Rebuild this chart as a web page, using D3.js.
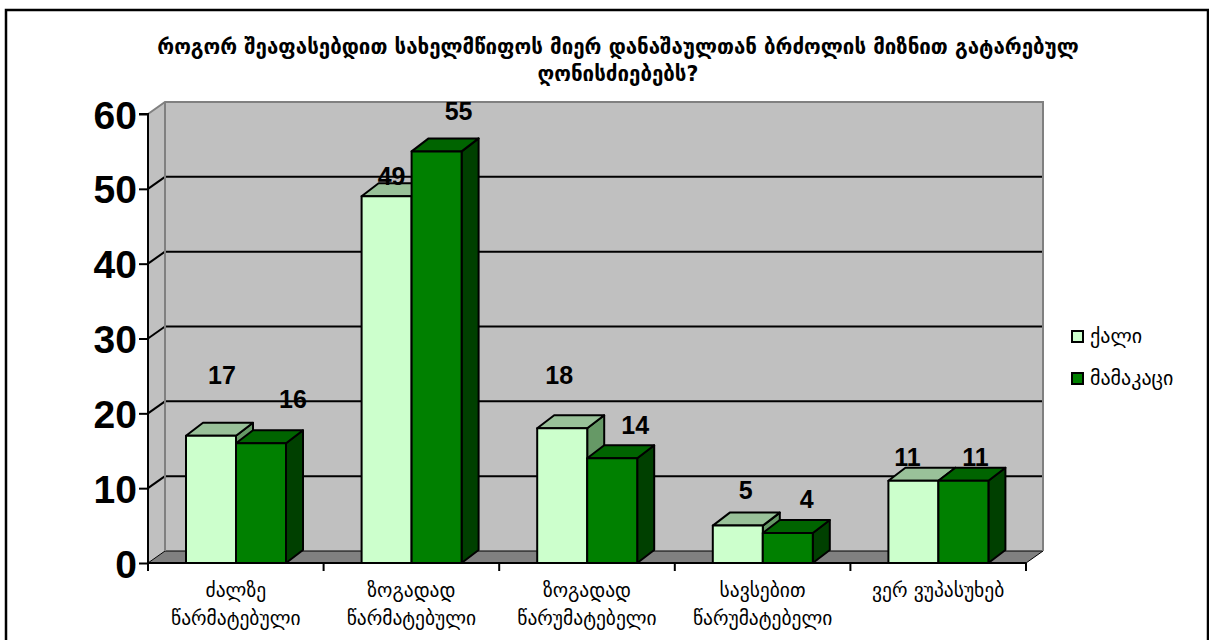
<!DOCTYPE html>
<html>
<head>
<meta charset="utf-8">
<script src="https://cdn.jsdelivr.net/npm/d3@7"></script>
<style>
  body { margin: 0; background: #fff; }
  svg { display: block; }
  .geo { font-family: "DejaVu Sans", "Noto Sans", sans-serif; }
  .num { font-family: "Liberation Sans", Arial, sans-serif; font-weight: bold; }
</style>
</head>
<body>
<svg id="chart" width="1209" height="640"></svg>
<script>
const titleLines = [
  'როგორ შეაფასებდით სახელმწიფოს მიერ დანაშაულთან ბრძოლის მიზნით გატარებულ',
  'ღონისძიებებს?'
];
const categories = [
  ['ძალზე', 'წარმატებული'],
  ['ზოგადად', 'წარმატებული'],
  ['ზოგადად', 'წარუმატებელი'],
  ['სავსებით', 'წარუმატებელი'],
  ['ვერ ვუპასუხებ']
];
const seriesNames = ['ქალი', 'მამაკაცი'];
const women = [17, 49, 18, 5, 11];
const men = [16, 55, 14, 4, 11];
const yTicks = [0, 10, 20, 30, 40, 50, 60];

// label nudges (px) from the front top centre of each bar, as placed in the original
const labelNudge = [
  [[11, -61], [5, -20], [-3, -53], [8, -36], [-6, -24]],
  [[32, -44], [22, -40], [23, -33], [19, -34], [12, -24]]
];

const svg = d3.select('#chart');
const plotL = 148, plotR = 1026, plotT = 114, plotB = 563;
const wallDx = 17, wallDy = -12;
const barDx = 17, barDy = -13;

const faces = [
  { front: '#ccffcc', top: '#99c199', side: '#669966' },
  { front: '#008000', top: '#006400', side: '#004000' }
];

const x = d3.scaleBand().domain(d3.range(categories.length)).range([plotL, plotR]);
const xs = d3.scaleBand().domain(d3.range(seriesNames.length)).range([38, 138]);
const y = d3.scaleLinear().domain([0, 60]).range([plotB, plotT]);

// outer frame
svg.append('rect')
  .attr('x', 6).attr('y', 10).attr('width', 1202).attr('height', 660)
  .attr('fill', 'none').attr('stroke', '#000').attr('stroke-width', 2.5);

// title
svg.append('g').selectAll('text')
  .data(titleLines)
  .join('text')
  .attr('class', 'geo')
  .attr('x', 618)
  .attr('y', (d, i) => 54 + i * 27)
  .attr('text-anchor', 'middle')
  .attr('font-size', 20.5)
  .attr('font-weight', 'bold')
  .text((d) => d);

const pts = (arr) => arr.map((p) => p.join(',')).join(' ');

// walls
const walls = svg.append('g');
walls.append('polygon')
  .attr('points', pts([[plotL, plotT], [plotL + wallDx, plotT + wallDy], [plotL + wallDx, plotB + wallDy], [plotL, plotB]]))
  .attr('fill', '#c0c0c0');
walls.append('rect')
  .attr('x', plotL + wallDx).attr('y', plotT + wallDy)
  .attr('width', plotR - plotL).attr('height', plotB - plotT)
  .attr('fill', '#c0c0c0');
walls.append('polygon')
  .attr('points', pts([[plotL, plotB], [plotR, plotB], [plotR + wallDx, plotB + wallDy], [plotL + wallDx, plotB + wallDy]]))
  .attr('fill', '#808080').attr('stroke', '#000').attr('stroke-width', 1);

// gridlines
yTicks.filter((v) => v > 0 && v < 60).forEach((v) => {
  walls.append('line')
    .attr('x1', plotL + wallDx).attr('x2', plotR + wallDx)
    .attr('y1', y(v) + wallDy).attr('y2', y(v) + wallDy)
    .attr('stroke', '#000').attr('stroke-width', 2);
  walls.append('line')
    .attr('x1', plotL).attr('x2', plotL + wallDx)
    .attr('y1', y(v)).attr('y2', y(v) + wallDy)
    .attr('stroke', '#000').attr('stroke-width', 2);
});
walls.append('polyline')
  .attr('points', pts([[plotL, plotT], [plotL + wallDx, plotT + wallDy], [plotR + wallDx, plotT + wallDy], [plotR + wallDx, plotB + wallDy]]))
  .attr('fill', 'none').attr('stroke', '#808080').attr('stroke-width', 2);
walls.append('line')
  .attr('x1', plotL + wallDx).attr('x2', plotL + wallDx)
  .attr('y1', plotT + wallDy).attr('y2', plotB + wallDy)
  .attr('stroke', '#808080').attr('stroke-width', 2);

// bars
const bars = svg.append('g');
const barData = [];
categories.forEach((c, i) => {
  [women, men].forEach((vals, s) => {
    barData.push({ i, s, v: vals[i], x0: x(i) + xs(s), w: xs.bandwidth(), y0: y(vals[i]) });
  });
});

bars.selectAll('g')
  .data(barData)
  .join('g')
  .each(function (d) {
    const g = d3.select(this);
    const f = faces[d.s];
    const x1 = d.x0 + d.w;
    g.append('polygon')
      .attr('points', pts([[x1, d.y0], [x1 + barDx, d.y0 + barDy], [x1 + barDx, plotB + barDy], [x1, plotB]]))
      .attr('fill', f.side);
    g.append('polygon')
      .attr('points', pts([[d.x0, d.y0], [d.x0 + barDx, d.y0 + barDy], [x1 + barDx, d.y0 + barDy], [x1, d.y0]]))
      .attr('fill', f.top);
    g.append('rect')
      .attr('x', d.x0).attr('y', d.y0).attr('width', d.w).attr('height', plotB - d.y0)
      .attr('fill', f.front);
    g.selectAll('polygon, rect')
      .attr('stroke', '#000').attr('stroke-width', 2).attr('stroke-linejoin', 'round');
  });

// axes
const yAxis = svg.append('g').attr('transform', `translate(${plotL},0)`)
  .call(d3.axisLeft(y).tickValues(yTicks).tickSize(9).tickPadding(2));
yAxis.attr('font-family', null).attr('font-size', null);
yAxis.select('.domain').attr('stroke-width', 2).attr('d', `M-9,${plotT}H0V${plotB + 8}`);
yAxis.selectAll('.tick line').attr('stroke-width', 2);
yAxis.selectAll('.tick text')
  .attr('class', 'num')
  .attr('font-size', 39)
  .attr('dy', '0.36em')
  .attr('fill', '#000');

svg.append('line')
  .attr('x1', plotL).attr('x2', plotR).attr('y1', plotB).attr('y2', plotB)
  .attr('stroke', '#000').attr('stroke-width', 2);
svg.append('g').selectAll('line')
  .data(d3.range(categories.length + 1))
  .join('line')
  .attr('x1', (d) => plotL + d * x.bandwidth()).attr('x2', (d) => plotL + d * x.bandwidth())
  .attr('y1', plotB).attr('y2', plotB + 8)
  .attr('stroke', '#000').attr('stroke-width', 2);

// category labels
const xl = svg.append('g');
categories.forEach((lines, i) => {
  xl.append('text')
    .attr('class', 'geo')
    .attr('x', x(i) + x.bandwidth() / 2)
    .attr('text-anchor', 'middle')
    .attr('font-size', 19.5)
    .selectAll('tspan')
    .data(lines)
    .join('tspan')
    .attr('x', x(i) + x.bandwidth() / 2)
    .attr('y', (d, k) => 597 + k * 28)
    .text((d) => d);
});

// data labels
svg.append('g').selectAll('text')
  .data(barData)
  .join('text')
  .attr('class', 'num')
  .attr('font-size', 25)
  .attr('text-anchor', 'middle')
  .attr('x', (d) => d.x0 + d.w / 2 + labelNudge[d.s][d.i][0])
  .attr('y', (d) => d.y0 + labelNudge[d.s][d.i][1] + 9)
  .text((d) => d.v);

// legend
const lg = svg.append('g').attr('transform', 'translate(1072,331)');
lg.selectAll('g')
  .data(seriesNames)
  .join('g')
  .attr('transform', (d, i) => `translate(0,${i * 42})`)
  .each(function (d, i) {
    const g = d3.select(this);
    g.append('rect').attr('width', 11).attr('height', 11)
      .attr('fill', faces[i].front).attr('stroke', '#000').attr('stroke-width', 2);
    g.append('text').attr('class', 'geo').attr('x', 18).attr('y', 12)
      .attr('font-size', 20).text(d);
  });
</script>
</body>
</html>
